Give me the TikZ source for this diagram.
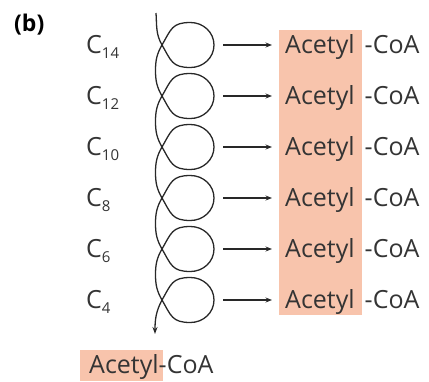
\documentclass[tikz,border=0pt]{standalone}
\usepackage{fontspec}
\setmainfont{Open Sans}
\usetikzlibrary{arrows.meta}

\definecolor{salmon}{RGB}{248,196,172}
\definecolor{inkgray}{RGB}{52,52,52}
\definecolor{linegray}{RGB}{40,40,40}

\tikzset{
  label text/.style={inner sep=0pt, anchor=base west, text=inkgray,
    font=\fontsize{25}{29}\selectfont},
  spiral/.style={draw=linegray, line width=1.3pt},
  yield arrow/.style={draw=linegray, line width=1.1pt,
    -{Stealth[length=6.5pt, width=5pt]}},
  salmon box/.style={fill=salmon, draw=none, inner sep=0pt, anchor=north west},
  into loop/.style={out=-60, in=180, looseness=1.3},
  out of loop/.style={out=180, in=60, looseness=1.3}
}

\newcommand{\carb}[1]{C\raisebox{-5pt}{\fontsize{15}{15}\selectfont #1}}

\begin{document}
\begin{tikzpicture}[x=1pt, y=1pt]
  \useasboundingbox (0,0) rectangle (429,-381);

  % highlighted acetyl column and the final acetyl group
  \node[salmon box, minimum width=83pt, minimum height=285pt] (column) at (279,-30) {};
  \node[salmon box, minimum width=83pt, minimum height=31pt] (lastbox) at (80,-350) {};

  % panel letter
  \node[inner sep=0pt, anchor=base west, text=black,
        font=\fontsize{23}{27}\selectfont\bfseries] (panel) at (14,-31) {(b)};

  % one row per turn of the cycle
  \foreach \k/\c in {0/14,1/12,2/10,3/8,4/6,5/4} {
    \pgfmathsetmacro\Y{-45-51*\k}
    \coordinate (X\k) at (162,\Y);
    \coordinate (B\k) at (190.5,\Y-22.5);
    \coordinate (R\k) at (214,\Y);
    \coordinate (T\k) at (190.5,\Y+22.5);
    \coordinate (L\k) at (155.5,\Y-25.5);
    \coordinate (s\k) at (223,\Y);
    \coordinate (t\k) at (272,\Y);
    \node[label text] (c\k) at (86,\Y-8) {\carb{\c}};
    \node[label text] (ac\k) at (285,\Y-8) {Acetyl};
    \node[label text] (coa\k) at (364.5,\Y-8) {-CoA};
    \draw[yield arrow] (s\k) -- (t\k);
  }

  \coordinate (start) at (156,-13);
  \coordinate (tip) at (155,-334);

  % the looping chain-shortening path
  \draw[spiral, -{Stealth[length=7pt, width=5pt]}]
    (start) to[out=-86, in=120] (X0)
    to[into loop] (B0) to[out=0, in=-90] (R0) to[out=90, in=0] (T0)
    to[out of loop] (X0) to[out=-120, in=90] (L0)
    to[out=-90, in=120] (X1)
    to[into loop] (B1) to[out=0, in=-90] (R1) to[out=90, in=0] (T1)
    to[out of loop] (X1) to[out=-120, in=90] (L1)
    to[out=-90, in=120] (X2)
    to[into loop] (B2) to[out=0, in=-90] (R2) to[out=90, in=0] (T2)
    to[out of loop] (X2) to[out=-120, in=90] (L2)
    to[out=-90, in=120] (X3)
    to[into loop] (B3) to[out=0, in=-90] (R3) to[out=90, in=0] (T3)
    to[out of loop] (X3) to[out=-120, in=90] (L3)
    to[out=-90, in=120] (X4)
    to[into loop] (B4) to[out=0, in=-90] (R4) to[out=90, in=0] (T4)
    to[out of loop] (X4) to[out=-120, in=90] (L4)
    to[out=-90, in=120] (X5)
    to[into loop] (B5) to[out=0, in=-90] (R5) to[out=90, in=0] (T5)
    to[out of loop] (X5) to[out=-118, in=90] (tip);

  % released acetyl-CoA
  \node[label text] (lastac) at (89,-373) {Acetyl-CoA};
\end{tikzpicture}
\end{document}
